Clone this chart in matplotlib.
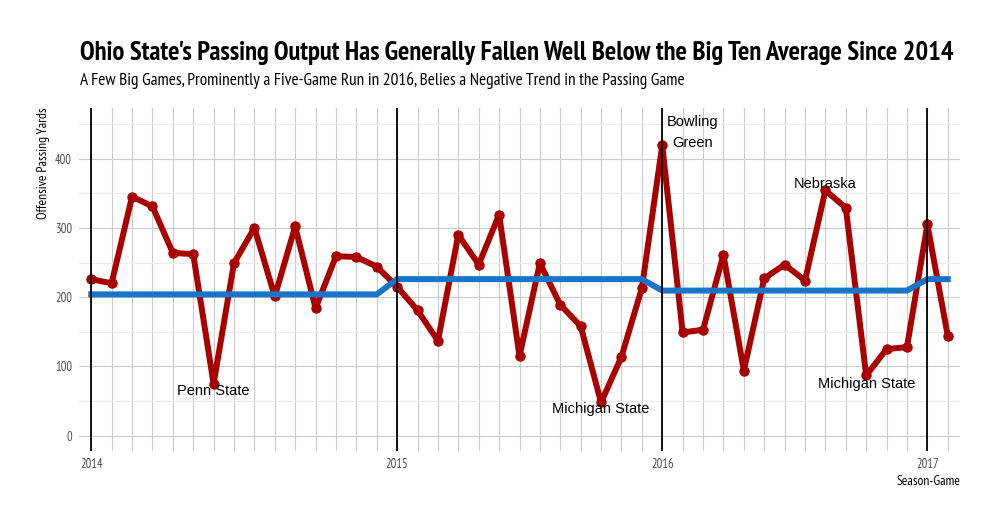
import matplotlib
matplotlib.use("Agg")
import matplotlib.pyplot as plt
from matplotlib import font_manager

# passing yards per game, by season
yds_2014 = [226, 220, 345, 331, 264, 262, 75, 249, 300, 201, 302, 184, 259, 258, 244]
yds_2015 = [215, 181, 137, 290, 247, 319, 115, 249, 189, 158, 48, 114, 213]
yds_2016 = [419, 149, 153, 261, 94, 227, 247, 224, 354, 329, 87, 125, 128]
yds_2017 = [305, 144]
seasons = ["2014", "2015", "2016", "2017"]
big_ten_avg = [204, 226, 209.5, 226]

notes = ["Penn State", "Michigan State", "Bowling\nGreen", "Nebraska", "Michigan State"]
note_game = [6, 25, 29.5, 36, 38]
note_y = [64, 38, 438, 363, 74]

title = "Ohio State's Passing Output Has Generally Fallen Well Below the Big Ten Average Since 2014"
subtitle = "A Few Big Games, Prominently a Five-Game Run in 2016, Belies a Negative Trend in the Passing Game"

games = [yds_2014, yds_2015, yds_2016, yds_2017]
yds = [v for s in games for v in s]
avg = [a for a, s in zip(big_ten_avg, games) for _ in s]
x = list(range(len(yds)))
starts = []
n = 0
for s in games:
    starts.append(n)
    n += len(s)


def pick(cands, weight):
    for c in cands:
        if any(f.name == c and f.weight == weight for f in font_manager.fontManager.ttflist):
            return c
    return "Roboto"


narrow_bold = pick(["PT Sans Narrow", "Fira Sans Condensed", "Asap Condensed"], 700)
narrow = pick(["PT Sans Narrow", "Fira Sans Condensed", "Archivo Narrow"], 400)
plain = "Liberation Sans"

fig = plt.figure(figsize=(10, 5.19), dpi=100)
ax = fig.add_axes([0.079, 0.131, 0.881, 0.661])

ax.plot(x, yds, color="#a90000", lw=4.3, marker="o", ms=6.5, zorder=3,
        solid_capstyle="round", solid_joinstyle="round")
ax.plot(x, avg, color="#1874c7", lw=4.3, zorder=4)
for s in starts:
    ax.axvline(s, color="black", lw=1.3, zorder=5)

for t, gx, gy in zip(notes, note_game, note_y):
    ax.text(gx, gy, t, ha="center", va="center", fontsize=10.5, family=plain,
            color="black", linespacing=1.6, zorder=6)

ax.set_xlim(-0.6, 42.6)
ax.set_ylim(-22, 473)
ax.set_xticks(starts)
ax.set_xticklabels(seasons)
ax.set_xticks(x, minor=True)
ax.set_yticks([0, 100, 200, 300, 400])
ax.set_yticks([50, 150, 250, 350, 450], minor=True)
ax.grid(True, which="major", color="#cbcbcb", lw=0.8)
ax.grid(True, which="minor", axis="x", color="#cbcbcb", lw=0.8)
ax.grid(True, which="minor", axis="y", color="#ececec", lw=0.8)
ax.set_axisbelow(True)
for sp in ax.spines.values():
    sp.set_visible(False)
ax.tick_params(which="both", length=0, labelsize=9, labelcolor="#4d4d4d", pad=5)
for lab in ax.get_xticklabels() + ax.get_yticklabels():
    lab.set_family(narrow)

ax.set_ylabel("Offensive Passing Yards", family=narrow, fontsize=9.8, loc="top")
ax.yaxis.set_label_coords(-0.033, 1)
ax.set_xlabel("Season-Game", family=narrow, fontsize=9.8, loc="right", labelpad=3)

t1 = fig.text(0.08, 0.885, title, family=narrow_bold, fontweight="bold", fontsize=18,
              ha="left", va="baseline")
t2 = fig.text(0.08, 0.836, subtitle, family=narrow, fontsize=12, ha="left", va="baseline")

# fit the title lines to the widths they have in the original
r = fig.canvas.get_renderer()
for t, w in [(t1, 875), (t2, 608)]:
    cur = t.get_window_extent(r).width
    t.set_fontsize(t.get_fontsize() * w / cur)

fig.savefig("out.png", dpi=100)
